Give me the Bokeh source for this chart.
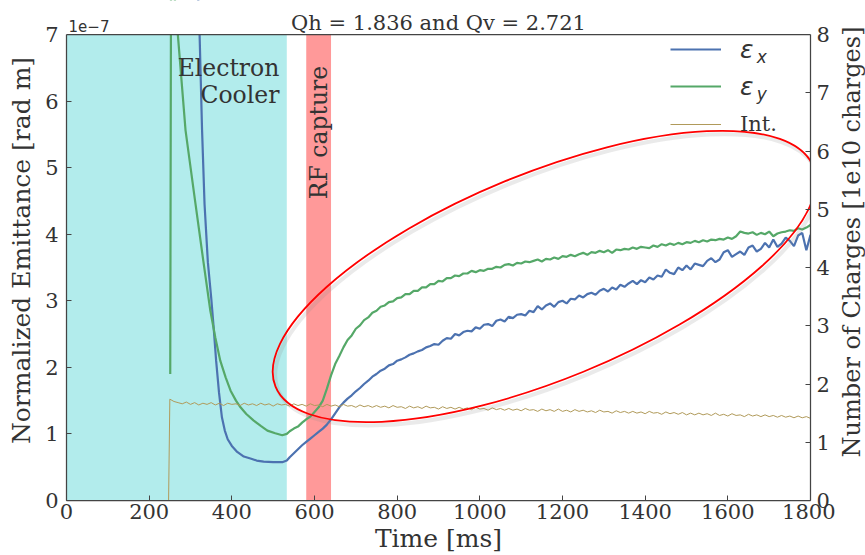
import math

from bokeh.embed import file_html
from bokeh.layouts import row
from bokeh.models import (BoxAnnotation, FixedTicker, Label, Legend, LegendItem,
                          LinearAxis, Range1d, Span)
from bokeh.plotting import figure
from bokeh.resources import INLINE

# ---------------------------------------------------------------------------
# Measured data
# ---------------------------------------------------------------------------
# Horizontal normalized emittance, units of 1e-7 rad m
emit_x_early_t = [250, 300, 322, 328, 334, 342, 350, 356, 362, 369, 376, 383,
                  390, 400, 413, 429, 445, 460, 477, 500, 522, 533]
emit_x_early = [16.0, 10.5, 7.0, 5.56, 4.45, 3.58, 3.05, 2.6, 2.1, 1.62, 1.25,
                1.05, 0.92, 0.82, 0.73, 0.66, 0.63, 0.60, 0.585, 0.575, 0.575, 0.60]
emit_x_late = [
    0.65, 0.71, 0.77, 0.83, 0.88, 0.93, 0.98, 1.03, 1.08, 1.14,
    1.22, 1.31, 1.40, 1.47, 1.53, 1.58, 1.64, 1.69, 1.75, 1.80,
    1.86, 1.90, 1.95, 1.98, 2.03, 2.05, 2.10, 2.12, 2.15, 2.19,
    2.21, 2.24, 2.26, 2.30, 2.32, 2.35, 2.34, 2.40, 2.44, 2.43,
    2.50, 2.48, 2.53, 2.55, 2.54, 2.60, 2.58, 2.64, 2.65, 2.62,
    2.70, 2.72, 2.69, 2.76, 2.74, 2.79, 2.80, 2.78, 2.85, 2.83,
    2.92, 2.87, 2.93, 2.96, 2.91, 2.98, 3.00, 2.96, 3.03, 3.02,
    3.08, 3.05, 3.10, 3.12, 3.09, 3.15, 3.18, 3.14, 3.20, 3.17,
    3.24, 3.21, 3.26, 3.30, 3.25, 3.31, 3.28, 3.35, 3.32, 3.38,
    3.36, 3.47, 3.42, 3.40, 3.50, 3.46, 3.53, 3.47, 3.56, 3.54,
    3.52, 3.60, 3.64, 3.58, 3.62, 3.73, 3.76, 3.66, 3.70, 3.74,
    3.69, 3.80, 3.83, 3.74, 3.78, 3.87, 3.80, 3.92, 3.81, 3.86,
    3.95, 3.90, 3.82, 3.98, 4.02, 3.76, 3.99,
]

# Vertical normalized emittance, units of 1e-7 rad m
emit_y_early_t = [251, 253, 270, 288, 310, 331, 348, 360, 372, 385, 397, 410,
                  421, 435, 453, 470, 486, 505, 522, 533]
emit_y_early = [1.9, 8.2, 6.95, 5.56, 4.55, 3.6, 2.85, 2.45, 2.1, 1.85, 1.65,
                1.5, 1.4, 1.3, 1.2, 1.12, 1.05, 1.01, 0.98, 1.0]
emit_y_late = [
    1.04, 1.08, 1.11, 1.17, 1.22, 1.26, 1.33, 1.40, 1.50, 1.68,
    1.88, 2.05, 2.17, 2.30, 2.41, 2.48, 2.58, 2.63, 2.71, 2.75,
    2.82, 2.85, 2.91, 2.93, 2.98, 2.99, 3.04, 3.05, 3.10, 3.10,
    3.15, 3.15, 3.20, 3.20, 3.25, 3.25, 3.30, 3.29, 3.34, 3.34,
    3.38, 3.37, 3.41, 3.41, 3.45, 3.43, 3.46, 3.45, 3.48, 3.48,
    3.51, 3.50, 3.54, 3.55, 3.53, 3.57, 3.56, 3.59, 3.58, 3.60,
    3.62, 3.59, 3.63, 3.62, 3.65, 3.63, 3.67, 3.66, 3.69, 3.67,
    3.70, 3.72, 3.69, 3.73, 3.72, 3.75, 3.73, 3.76, 3.72, 3.77,
    3.76, 3.78, 3.77, 3.80, 3.78, 3.81, 3.80, 3.79, 3.83, 3.81,
    3.85, 3.83, 3.86, 3.84, 3.87, 3.85, 3.88, 3.87, 3.90, 3.88,
    3.91, 3.89, 3.92, 3.91, 3.93, 3.92, 3.95, 3.93, 3.97, 4.04,
    4.02, 4.01, 4.03, 3.99, 4.02, 4.00, 4.04, 3.97, 4.01, 4.03,
    4.04, 4.06, 4.05, 4.09, 4.07, 4.10, 4.14,
]
late_t = list(range(540, 1801, 10))

# Beam intensity, units of 1e10 charges
intensity_early_t = [0, 60, 120, 180, 240, 247]
intensity_early = [0.0, 0.0, 0.0, 0.0, 0.0, 0.0]
intensity_late = [
    1.74, 1.70, 1.68, 1.66, 1.69, 1.65, 1.68, 1.64, 1.67, 1.65,
    1.68, 1.64, 1.67, 1.63, 1.67, 1.65, 1.66, 1.63, 1.67, 1.64,
    1.66, 1.63, 1.67, 1.64, 1.66, 1.62, 1.66, 1.64, 1.65, 1.62,
    1.66, 1.63, 1.65, 1.62, 1.66, 1.63, 1.64, 1.61, 1.65, 1.62,
    1.64, 1.61, 1.65, 1.62, 1.63, 1.60, 1.64, 1.61, 1.63, 1.60,
    1.63, 1.60, 1.62, 1.59, 1.63, 1.60, 1.61, 1.58, 1.62, 1.59,
    1.61, 1.58, 1.62, 1.59, 1.60, 1.57, 1.61, 1.58, 1.60, 1.57,
    1.60, 1.57, 1.59, 1.56, 1.60, 1.57, 1.58, 1.55, 1.59, 1.56,
    1.58, 1.55, 1.58, 1.55, 1.57, 1.54, 1.58, 1.55, 1.56, 1.53,
    1.57, 1.54, 1.56, 1.53, 1.57, 1.53, 1.55, 1.52, 1.56, 1.53,
    1.55, 1.52, 1.54, 1.51, 1.55, 1.52, 1.53, 1.50, 1.54, 1.51,
    1.53, 1.50, 1.53, 1.50, 1.52, 1.49, 1.53, 1.50, 1.51, 1.48,
    1.52, 1.49, 1.51, 1.48, 1.51, 1.47, 1.50, 1.47, 1.50, 1.47,
    1.49, 1.46, 1.50, 1.46, 1.48, 1.45, 1.49, 1.46, 1.47, 1.44,
    1.48, 1.45, 1.47, 1.44, 1.47, 1.44, 1.46, 1.43, 1.46, 1.43,
    1.45, 1.42, 1.45, 1.42, 1.44, 1.41,
]
intensity_late_t = list(range(250, 1801, 10))

# Machine phases (ms)
cooler_window = [0, 533]
rf_window = [580, 640]

x_ticks = [0, 200, 400, 600, 800, 1000, 1200, 1400, 1600, 1800]
emit_ticks = [0, 1, 2, 3, 4, 5, 6, 7]
charge_ticks = [0, 1, 2, 3, 4, 5, 6, 7, 8]
emit_max, charge_max = 7, 8

emit_x_t = emit_x_early_t + late_t
emit_x = emit_x_early + emit_x_late
emit_y_t = emit_y_early_t + late_t
emit_y = emit_y_early + emit_y_late
intensity_t = intensity_early_t + intensity_late_t
intensity = intensity_early + intensity_late

# ---------------------------------------------------------------------------
# Figure
# ---------------------------------------------------------------------------
SERIF = "DejaVu Serif"
INK = "#333333"
SPINE = "#444444"
FULL_H = 555
MAIN_W = 835
SIDE_W = 865 - MAIN_W

# The plotting frame reaches the top of the canvas so that the heading and the
# exponent text can be drawn above the axes box (y = 7), which is drawn by hand.
HEAD = 34 / 466  # heading strip as a fraction of the axes box height
emit_top = emit_max * (1 + HEAD)
charge_top = charge_max * (1 + HEAD)

p = figure(width=MAIN_W, height=FULL_H, output_backend="svg",
           toolbar_location=None,
           x_range=Range1d(0, 1800), y_range=Range1d(0, emit_top),
           min_border_left=66, min_border_right=25,
           min_border_top=0, min_border_bottom=55)
p.extra_y_ranges = {"charges": Range1d(0, charge_top)}
p.xgrid.visible = False
p.ygrid.visible = False
p.outline_line_color = None
p.background_fill_color = "white"
p.border_fill_color = "white"

right_axis = LinearAxis(y_range_name="charges")
p.add_layout(right_axis, "right")

p.xaxis.ticker = FixedTicker(ticks=x_ticks)
p.yaxis[0].ticker = FixedTicker(ticks=emit_ticks)
p.yaxis[0].bounds = (0, emit_max)
right_axis.ticker = FixedTicker(ticks=charge_ticks)
right_axis.bounds = (0, charge_max)

for ax in (p.xaxis[0], p.yaxis[0], right_axis):
    ax.major_tick_in = 5
    ax.major_tick_out = 0
    ax.minor_tick_in = 0
    ax.minor_tick_out = 0
    ax.axis_line_color = SPINE
    ax.axis_line_width = 1.25
    ax.major_tick_line_color = SPINE
    ax.major_label_text_font = SERIF
    ax.major_label_text_font_size = "21px"
    ax.major_label_text_color = INK
    ax.axis_label_text_font = SERIF
    ax.axis_label_text_font_size = "25px"
    ax.axis_label_text_font_style = "normal"
    ax.axis_label_text_color = INK

p.xaxis.axis_label = "Time [ms]"
p.xaxis.major_label_standoff = 3
p.xaxis.axis_label_standoff = 2
p.yaxis[0].axis_label = "Normalized Emittance [rad m]"
p.yaxis[0].major_label_standoff = 8
p.yaxis[0].axis_label_standoff = 6
right_axis.major_label_standoff = 6

# Shaded phases
p.add_layout(BoxAnnotation(left=cooler_window[0], right=cooler_window[1],
                           bottom=0, top=emit_max,
                           fill_color="#00BFBF", fill_alpha=0.3, line_alpha=0,
                           level="underlay"))
p.add_layout(BoxAnnotation(left=rf_window[0], right=rf_window[1],
                           bottom=0, top=emit_max,
                           fill_color="#FF0000", fill_alpha=0.4, line_alpha=0,
                           level="underlay"))

# Curves
r_x = p.line(emit_x_t, emit_x, line_color="#4C72B0", line_width=2.2)
r_y = p.line(emit_y_t, emit_y, line_color="#55A868", line_width=2.2)
r_int = p.line(intensity_t, intensity, line_color="#B09A5A", line_width=1,
               y_range_name="charges")

# Highlight ring around the emittance growth
ring_x, ring_y = 1156, 3.365
ring_w, ring_h, ring_angle = 581, 206, 0.389
p.ellipse(x=[ring_x + 6], y=[ring_y - 0.05], width=[ring_w], height=[ring_h],
          angle=ring_angle, width_units="screen", height_units="screen",
          fill_color=None, line_color="#888888", line_alpha=0.18, line_width=4)
p.ellipse(x=[ring_x], y=[ring_y], width=[ring_w], height=[ring_h],
          angle=ring_angle, width_units="screen", height_units="screen",
          fill_color=None, line_color="#FF0000", line_width=1.8)

# Heading strip: blank out anything above the axes box, then close the box
p.add_layout(BoxAnnotation(bottom=emit_max, fill_color="white", fill_alpha=1,
                           line_alpha=0, level="overlay"))
p.add_layout(Span(location=emit_max, dimension="width", line_color=SPINE,
                  line_width=1.25, level="overlay"))

# Legends (fixed row height so the anchor is predictable)
eps_legend = Legend(items=[LegendItem(label="ε", renderers=[r_x]),
                           LegendItem(label="ε", renderers=[r_y])],
                    location=(604, 399), spacing=7)
int_legend = Legend(items=[LegendItem(label="Int.", renderers=[r_int])],
                    location=(604, 361))
for leg in (eps_legend, int_legend):
    leg.border_line_color = None
    leg.background_fill_alpha = 0
    leg.padding = 0
    leg.margin = 0
    leg.glyph_width = 51
    leg.glyph_height = 30
    leg.label_height = 30
    leg.label_standoff = 19
    leg.label_text_color = INK
eps_legend.label_text_font = "DejaVu Sans"
eps_legend.label_text_font_style = "italic"
eps_legend.label_text_font_size = "25px"
int_legend.label_text_font = SERIF
int_legend.label_text_font_size = "21px"
p.add_layout(eps_legend)
p.add_layout(int_legend)

for sub, yv in (("x", 6.66), ("y", 6.11)):
    p.add_layout(Label(x=1670, y=yv, text=sub, text_font="DejaVu Sans",
                       text_font_style="italic", text_font_size="17px",
                       text_color=INK, text_baseline="middle", level="overlay"))

# Text annotations
p.add_layout(Label(x=900, y=7.17, text="Qh = 1.836 and Qv = 2.721",
                   text_font=SERIF, text_font_size="21px", text_color=INK,
                   text_align="center", text_baseline="alphabetic",
                   level="overlay"))
p.add_layout(Label(x=5, y=7.124, text="1e\u22127",
                   text_font="DejaVu Sans", text_font_size="15px",
                   text_color=INK, text_baseline="alphabetic", level="overlay"))
p.add_layout(Label(x=515, y=6.495, text="Electron", text_font=SERIF,
                   text_font_size="23.5px", text_color=INK,
                   text_align="right", text_baseline="alphabetic"))
p.add_layout(Label(x=515, y=6.095, text="Cooler", text_font=SERIF,
                   text_font_size="23.5px", text_color=INK,
                   text_align="right", text_baseline="alphabetic"))
p.add_layout(Label(x=610, y=6.53, angle=math.pi / 2, text="RF capture",
                   text_font=SERIF, text_font_size="23.5px", text_color=INK,
                   text_align="right", text_baseline="middle"))

# Narrow strip on the right carrying the intensity axis title
side = figure(width=SIDE_W, height=FULL_H, output_backend="svg",
              toolbar_location=None, x_axis_type=None, y_axis_type=None,
              x_range=Range1d(0, SIDE_W), y_range=Range1d(0, FULL_H),
              min_border_left=0, min_border_right=0,
              min_border_top=0, min_border_bottom=0)
side.outline_line_color = None
side.xgrid.visible = False
side.ygrid.visible = False
side.background_fill_color = "white"
side.border_fill_color = "white"
side.add_layout(Label(x=SIDE_W / 2 + 1, y=FULL_H - 268, angle=math.pi / 2,
                      text="Number of Charges [1e10 charges]", text_font=SERIF,
                      text_font_size="24px", text_color=INK,
                      text_align="center", text_baseline="middle"))

layout = row(p, side)
open("out.html", "w").write(file_html(layout, INLINE))
